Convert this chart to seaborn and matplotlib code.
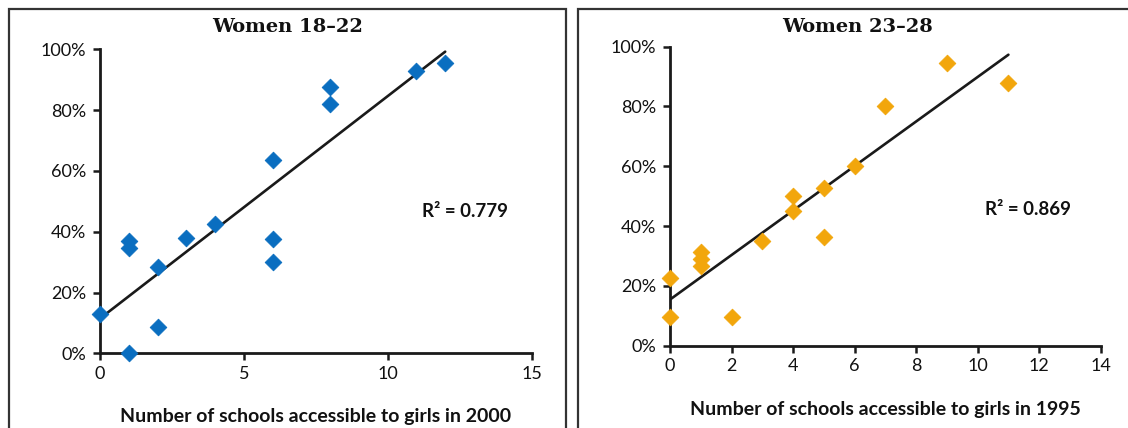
import matplotlib
matplotlib.use("Agg")
import matplotlib.pyplot as plt
import matplotlib.patches as mpatches
from matplotlib.ticker import PercentFormatter, MultipleLocator
import seaborn as sns
import pandas as pd

# Women aged 18-22: schools accessible to girls in 2000 vs. share
schools_2000 = [0, 1, 1, 1, 2, 2, 3, 4, 6, 6, 6, 8, 8, 11, 12]
share_18_22 = [0.13, 0.0, 0.37, 0.345, 0.285, 0.085, 0.38, 0.425,
               0.635, 0.375, 0.30, 0.875, 0.82, 0.93, 0.955]

# Women aged 23-28: schools accessible to girls in 1995 vs. share
schools_1995 = [0, 0, 1, 1, 1, 2, 3, 4, 4, 5, 5, 6, 7, 9, 11]
share_23_28 = [0.225, 0.097, 0.315, 0.29, 0.265, 0.096, 0.35, 0.50,
               0.452, 0.527, 0.365, 0.60, 0.80, 0.945, 0.88]

panel_titles = ["Women 18\u201322", "Women 23\u201328"]
x_labels = ["Number of schools accessible to girls in 2000",
            "Number of schools accessible to girls in 1995"]
r2_labels = ["R\u00b2 = 0.779", "R\u00b2 = 0.869"]
x_limits = [(0, 15), (0, 14)]
x_steps = [5, 2]
colors = ["#0A6EC0", "#F2A60C"]

sns.set_theme(style="white")
plt.rcParams["font.family"] = ["Lato", "DejaVu Sans"]

W, H = 1128, 428
fig = plt.figure(figsize=(W / 100, H / 100), dpi=100)

# frames around each chart (pixel boxes)
for (x0, y0, x1, y1) in [(9, 9, 566, 440), (578, 8.5, 1140, 440)]:
    fig.patches.append(mpatches.Rectangle(
        (x0 / W, 1 - y1 / H), (x1 - x0) / W, (y1 - y0) / H,
        transform=fig.transFigure, fill=False, edgecolor="#333333",
        linewidth=1.6, clip_on=False))

# axes rectangles in pixels: left, top, right, bottom
axes_px = [(100, 49.3, 531.5, 353.3), (670, 46.7, 1100.7, 345.7)]
title_px = [(288, 27), (858, 27)]
r2_pos = [(0.846, 0.468), (0.831, 0.454)]

datasets = [
    pd.DataFrame({"schools": schools_2000, "share": share_18_22}),
    pd.DataFrame({"schools": schools_1995, "share": share_23_28}),
]

for i, df in enumerate(datasets):
    l, t, r, b = axes_px[i]
    ax = fig.add_axes([l / W, 1 - b / H, (r - l) / W, (b - t) / H])

    sns.regplot(data=df, x="schools", y="share", scatter=False, ci=None,
                truncate=True, ax=ax,
                line_kws={"color": "#1a1a1a", "linewidth": 1.9, "zorder": 3})
    sns.scatterplot(data=df, x="schools", y="share", ax=ax, marker="D",
                    s=72, color=colors[i], edgecolor=colors[i], linewidth=0.6,
                    clip_on=False, zorder=4, legend=False)

    ax.set_xlim(*x_limits[i])
    ax.set_ylim(0, 1)
    ax.xaxis.set_major_locator(MultipleLocator(x_steps[i]))
    ax.yaxis.set_major_locator(MultipleLocator(0.2))
    ax.yaxis.set_major_formatter(PercentFormatter(1.0, decimals=0))

    for side in ["top", "right"]:
        ax.spines[side].set_visible(False)
    for side in ["left", "bottom"]:
        ax.spines[side].set_color("#1a1a1a")
        ax.spines[side].set_linewidth(2.0)
        ax.spines[side].set_zorder(2.5)

    ax.tick_params(axis="both", which="major", bottom=True, left=True,
                   direction="out", length=5, width=1.8,
                   color="#1a1a1a", labelsize=13, labelcolor="#111111")
    ax.tick_params(axis="y", pad=5)
    ax.tick_params(axis="x", pad=4)
    ax.grid(False)
    ax.set_facecolor("none")

    ax.set_ylabel("")
    ax.set_xlabel(x_labels[i], fontsize=14, fontweight="bold",
                  color="#111111", labelpad=19)

    ax.text(*r2_pos[i], r2_labels[i], transform=ax.transAxes,
            ha="center", va="center", fontsize=13.5, fontweight="bold",
            color="#111111")

    tx, ty = title_px[i]
    fig.text(tx / W, 1 - ty / H, panel_titles[i], ha="center", va="center",
             fontsize=14, fontweight="bold", family="DejaVu Serif",
             color="#111111")

fig.savefig("out.png", dpi=100, facecolor="white")
